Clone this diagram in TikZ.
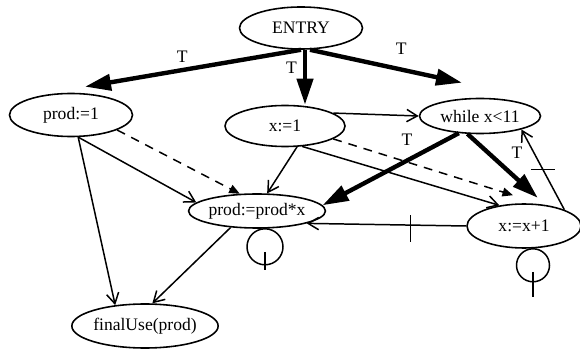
\documentclass[tikz,border=0pt]{standalone}
\usepackage{fontspec}
\setmainfont{Liberation Serif}
\usetikzlibrary{shapes.geometric,arrows.meta}

\begin{document}
\begin{tikzpicture}[
  stmt/.style={draw, ellipse, line width=0.9pt, inner sep=0pt},
  ctrl/.style={line width=2.5pt, -{Triangle[length=0.52cm,width=0.32cm]}},
  flow/.style={line width=0.85pt, -{Straight Barb[length=6pt,width=7pt]}},
  anti/.style={line width=0.85pt, dash pattern=on 5pt off 4pt, -{Triangle[length=6pt,width=5pt]}},
  carried/.style={line width=0.85pt}]

\useasboundingbox (0,0) rectangle (11.6,7.04);

\node[stmt, minimum width=2.46cm, minimum height=0.84cm] (entry) at (6.02,6.48) {ENTRY};
\node[stmt, minimum width=2.46cm, minimum height=0.86cm] (prod1) at (1.42,4.74) {prod:=1};
\node[stmt, minimum width=2.4cm, minimum height=0.82cm] (x1) at (5.70,4.52) {x:=1};
\node[stmt, minimum width=2.42cm, minimum height=0.7cm] (while) at (9.60,4.72) {while x<11};
\node[stmt, minimum width=2.62cm, minimum height=0.68cm] (pp) at (5.14,2.82) {prod:=prod*x};
\node[stmt, minimum width=2.28cm, minimum height=0.88cm] (xinc) at (10.48,2.52) {x:=x+1};
\node[stmt, minimum width=2.4cm, minimum height=0.88cm] (final) at (2.90,0.52) {finalUse(prod)};

\coordinate (edown) at ([xshift=.08cm]entry.south);

\draw[ctrl] (entry.south) -- node[pos=.55, above] {T} ([xshift=.28cm,yshift=.12cm]prod1.north);
\draw[ctrl] (edown) -- node[pos=.33, left] {T} (edown |- x1.north);
\draw[ctrl] ([xshift=.18cm]entry.south) -- node[pos=.6, above=4pt] {T} ([xshift=-.36cm,yshift=.3cm]while.north);

\draw[flow] (x1.15) -- (while.west);
\draw[flow] (x1.-60) -- (pp.60);
\draw[flow] (x1.-50) -- (xinc.140);
\draw[anti] (x1.-15) -- ([xshift=-.22cm,yshift=.16cm]xinc.north);

\draw[flow] (prod1.-72) -- (pp.172);
\draw[flow] (prod1.-72) -- (final.145);
\draw[anti] (prod1.-18) -- (pp.135);

\draw[ctrl] (while.219) -- node[pos=.38, above=4pt] {T} (pp.5);
\draw[ctrl] (while.-125) -- node[pos=.3, right=.3cm] {T} ([yshift=.12cm]xinc.58);

\draw[flow] (xinc.22) -- coordinate[pos=.5] (back) (while.-18);
\draw[carried] (back) ++(-.24,0) -- ++(.48,0);
\draw[flow] (xinc.west) -- coordinate[pos=.35] (cross) (pp.-14);
\draw[carried] (cross) ++(0,.2) -- ++(0,-.54);

\draw[flow] (pp.-148) -- (final.72);

\draw[carried] ([xshift=.16cm,yshift=-.36cm]pp.south) circle (.36cm);
\draw[carried] ([xshift=.16cm,yshift=-.46cm]pp.south) -- ++(0,-.36);
\draw[carried] ([xshift=.18cm,yshift=-.33cm]xinc.south) circle (.33cm);
\draw[carried] ([xshift=.18cm,yshift=-.46cm]xinc.south) -- ++(0,-.5);

\end{tikzpicture}
\end{document}
